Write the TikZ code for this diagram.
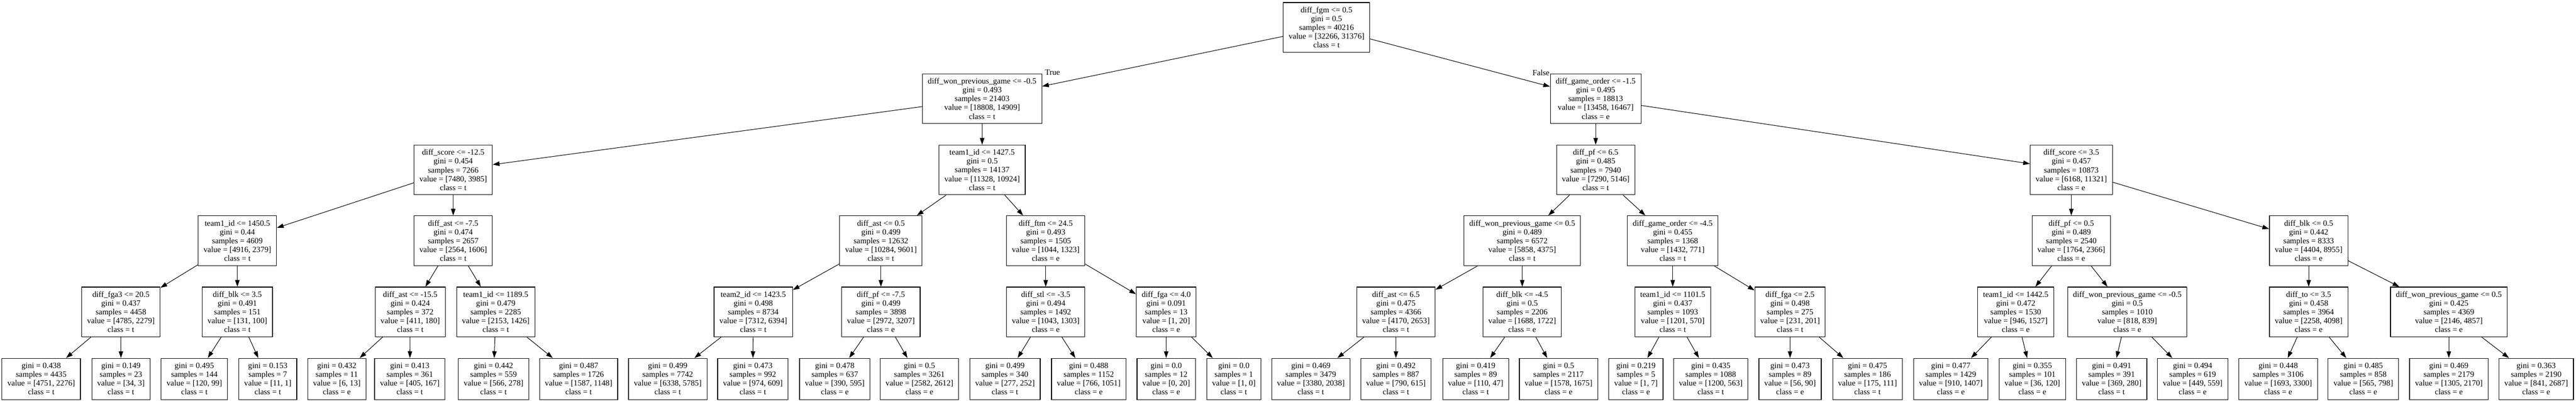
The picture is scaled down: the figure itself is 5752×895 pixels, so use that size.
\documentclass[tikz,border=0pt]{standalone}
\usepackage{fontspec}
\usetikzlibrary{arrows.meta}
\newfontfamily\gvfont{Liberation Serif}
\tikzset{
  box/.style={draw=black, line width=1.4pt, align=center, inner xsep=12pt, inner ysep=0pt,
    minimum height=111pt, anchor=north, font=\gvfont\fontsize{18}{19.7}\selectfont},
  leaf/.style={box, minimum height=92pt},
  arr/.style={draw=black, line width=1.2pt, -{Triangle[length=15pt,width=10pt]}},
  lbl/.style={font=\gvfont\fontsize{18}{19.7}\selectfont, inner sep=0pt}
}
\begin{document}
\begin{tikzpicture}[x=1pt,y=1pt]
\useasboundingbox (0,0) rectangle (5752,895);
% level 0
\node[box] (r) at (2962,890) {diff\_fgm <= 0.5\\gini = 0.5\\samples = 40216\\value = [32266, 31376]\\class = t};
% level 1
\node[box] (a) at (2193,731) {diff\_won\_previous\_game <= -0.5\\gini = 0.493\\samples = 21403\\value = [18808, 14909]\\class = t};
\node[box] (b) at (3563,731) {diff\_game\_order <= -1.5\\gini = 0.495\\samples = 18813\\value = [13458, 16467]\\class = e};
% level 2
\node[box] (aa) at (1012,572) {diff\_score <= -12.5\\gini = 0.454\\samples = 7266\\value = [7480, 3985]\\class = t};
\node[box] (ab) at (2193,572) {team1\_id <= 1427.5\\gini = 0.5\\samples = 14137\\value = [11328, 10924]\\class = t};
\node[box] (ba) at (3563,572) {diff\_pf <= 6.5\\gini = 0.485\\samples = 7940\\value = [7290, 5146]\\class = t};
\node[box] (bb) at (4625,572) {diff\_score <= 3.5\\gini = 0.457\\samples = 10873\\value = [6168, 11321]\\class = e};
% level 3
\node[box] (aaa) at (530,414) {team1\_id <= 1450.5\\gini = 0.44\\samples = 4609\\value = [4916, 2379]\\class = t};
\node[box] (aab) at (1012,414) {diff\_ast <= -7.5\\gini = 0.474\\samples = 2657\\value = [2564, 1606]\\class = t};
\node[box] (aba) at (1967,414) {diff\_ast <= 0.5\\gini = 0.499\\samples = 12632\\value = [10284, 9601]\\class = t};
\node[box] (abb) at (2335,414) {diff\_ftm <= 24.5\\gini = 0.493\\samples = 1505\\value = [1044, 1323]\\class = e};
\node[box] (baa) at (3399,414) {diff\_won\_previous\_game <= 0.5\\gini = 0.489\\samples = 6572\\value = [5858, 4375]\\class = t};
\node[box] (bab) at (3735,414) {diff\_game\_order <= -4.5\\gini = 0.455\\samples = 1368\\value = [1432, 771]\\class = t};
\node[box] (bba) at (4625,414) {diff\_pf <= 0.5\\gini = 0.489\\samples = 2540\\value = [1764, 2366]\\class = e};
\node[box] (bbb) at (5155,414) {diff\_blk <= 0.5\\gini = 0.442\\samples = 8333\\value = [4404, 8955]\\class = e};
% level 4
\node[box] (aaaa) at (270,255) {diff\_fga3 <= 20.5\\gini = 0.437\\samples = 4458\\value = [4785, 2279]\\class = t};
\node[box] (aaab) at (530,255) {diff\_blk <= 3.5\\gini = 0.491\\samples = 151\\value = [131, 100]\\class = t};
\node[box] (aaba) at (916,255) {diff\_ast <= -15.5\\gini = 0.424\\samples = 372\\value = [411, 180]\\class = t};
\node[box] (aabb) at (1107,255) {team1\_id <= 1189.5\\gini = 0.479\\samples = 2285\\value = [2153, 1426]\\class = t};
\node[box] (abaa) at (1682,255) {team2\_id <= 1423.5\\gini = 0.498\\samples = 8734\\value = [7312, 6394]\\class = t};
\node[box] (abab) at (1967,255) {diff\_pf <= -7.5\\gini = 0.499\\samples = 3898\\value = [2972, 3207]\\class = e};
\node[box] (abba) at (2335,255) {diff\_stl <= -3.5\\gini = 0.494\\samples = 1492\\value = [1043, 1303]\\class = e};
\node[box] (abbb) at (2604,255) {diff\_fga <= 4.0\\gini = 0.091\\samples = 13\\value = [1, 20]\\class = e};
\node[box] (baaa) at (3117,255) {diff\_ast <= 6.5\\gini = 0.475\\samples = 4366\\value = [4170, 2653]\\class = t};
\node[box] (baab) at (3399,255) {diff\_blk <= -4.5\\gini = 0.5\\samples = 2206\\value = [1688, 1722]\\class = e};
\node[box] (baba) at (3735,255) {team1\_id <= 1101.5\\gini = 0.437\\samples = 1093\\value = [1201, 570]\\class = t};
\node[box] (babb) at (3997,255) {diff\_fga <= 2.5\\gini = 0.498\\samples = 275\\value = [231, 201]\\class = t};
\node[box] (bbaa) at (4501,255) {team1\_id <= 1442.5\\gini = 0.472\\samples = 1530\\value = [946, 1527]\\class = e};
\node[box] (bbab) at (4750,255) {diff\_won\_previous\_game <= -0.5\\gini = 0.5\\samples = 1010\\value = [818, 839]\\class = e};
\node[box] (bbba) at (5155,255) {diff\_to <= 3.5\\gini = 0.458\\samples = 3964\\value = [2258, 4098]\\class = e};
\node[box] (bbbb) at (5468,255) {diff\_won\_previous\_game <= 0.5\\gini = 0.425\\samples = 4369\\value = [2146, 4857]\\class = e};
% leaves
\node[leaf] (l1) at (92,96) {gini = 0.438\\samples = 4435\\value = [4751, 2276]\\class = t};
\node[leaf] (l2) at (270,96) {gini = 0.149\\samples = 23\\value = [34, 3]\\class = t};
\node[leaf] (l3) at (434,96) {gini = 0.495\\samples = 144\\value = [120, 99]\\class = t};
\node[leaf] (l4) at (598,96) {gini = 0.153\\samples = 7\\value = [11, 1]\\class = t};
\node[leaf] (l5) at (752,96) {gini = 0.432\\samples = 11\\value = [6, 13]\\class = e};
\node[leaf] (l6) at (915,96) {gini = 0.413\\samples = 361\\value = [405, 167]\\class = t};
\node[leaf] (l7) at (1102,96) {gini = 0.442\\samples = 559\\value = [566, 278]\\class = t};
\node[leaf] (l8) at (1292,96) {gini = 0.487\\samples = 1726\\value = [1587, 1148]\\class = t};
\node[leaf] (l9) at (1491,96) {gini = 0.499\\samples = 7742\\value = [6338, 5785]\\class = t};
\node[leaf] (l10) at (1681,96) {gini = 0.473\\samples = 992\\value = [974, 609]\\class = t};
\node[leaf] (l11) at (1864,96) {gini = 0.478\\samples = 637\\value = [390, 595]\\class = e};
\node[leaf] (l12) at (2053,96) {gini = 0.5\\samples = 3261\\value = [2582, 2612]\\class = e};
\node[leaf] (l13) at (2244,96) {gini = 0.499\\samples = 340\\value = [277, 252]\\class = t};
\node[leaf] (l14) at (2431,96) {gini = 0.488\\samples = 1152\\value = [766, 1051]\\class = e};
\node[leaf] (l15) at (2604,96) {gini = 0.0\\samples = 12\\value = [0, 20]\\class = e};
\node[leaf] (l16) at (2755,96) {gini = 0.0\\samples = 1\\value = [1, 0]\\class = t};
\node[leaf] (l17) at (2927,96) {gini = 0.469\\samples = 3479\\value = [3380, 2038]\\class = t};
\node[leaf] (l18) at (3117,96) {gini = 0.492\\samples = 887\\value = [790, 615]\\class = t};
\node[leaf] (l19) at (3295,96) {gini = 0.419\\samples = 89\\value = [110, 47]\\class = t};
\node[leaf] (l20) at (3480,96) {gini = 0.5\\samples = 2117\\value = [1578, 1675]\\class = e};
\node[leaf] (l21) at (3653,96) {gini = 0.219\\samples = 5\\value = [1, 7]\\class = e};
\node[leaf] (l22) at (3820,96) {gini = 0.435\\samples = 1088\\value = [1200, 563]\\class = t};
\node[leaf] (l23) at (3997,96) {gini = 0.473\\samples = 89\\value = [56, 90]\\class = e};
\node[leaf] (l24) at (4170,96) {gini = 0.475\\samples = 186\\value = [175, 111]\\class = t};
\node[leaf] (l25) at (4356,96) {gini = 0.477\\samples = 1429\\value = [910, 1407]\\class = e};
\node[leaf] (l26) at (4538,96) {gini = 0.355\\samples = 101\\value = [36, 120]\\class = e};
\node[leaf] (l27) at (4715,96) {gini = 0.491\\samples = 391\\value = [369, 280]\\class = t};
\node[leaf] (l28) at (4896,96) {gini = 0.494\\samples = 619\\value = [449, 559]\\class = e};
\node[leaf] (l29) at (5087,96) {gini = 0.448\\samples = 3106\\value = [1693, 3300]\\class = e};
\node[leaf] (l30) at (5277,96) {gini = 0.485\\samples = 858\\value = [565, 798]\\class = e};
\node[leaf] (l31) at (5468,96) {gini = 0.469\\samples = 2179\\value = [1305, 2170]\\class = e};
\node[leaf] (l32) at (5663,96) {gini = 0.363\\samples = 2190\\value = [841, 2687]\\class = e};
% edge labels
\node[lbl] (tl) at (2350,733) {True};
\node[lbl] (fl) at (3441,733) {False};
% edges
\foreach \p/\c in {r/a, r/b, a/aa, a/ab, b/ba, b/bb,
  aa/aaa, aa/aab, ab/aba, ab/abb, ba/baa, ba/bab, bb/bba, bb/bbb,
  aaa/aaaa, aaa/aaab, aab/aaba, aab/aabb, aba/abaa, aba/abab, abb/abba, abb/abbb,
  baa/baaa, baa/baab, bab/baba, bab/babb, bba/bbaa, bba/bbab, bbb/bbba, bbb/bbbb,
  aaaa/l1, aaaa/l2, aaab/l3, aaab/l4, aaba/l5, aaba/l6, aabb/l7, aabb/l8,
  abaa/l9, abaa/l10, abab/l11, abab/l12, abba/l13, abba/l14, abbb/l15, abbb/l16,
  baaa/l17, baaa/l18, baab/l19, baab/l20, baba/l21, baba/l22, babb/l23, babb/l24,
  bbaa/l25, bbaa/l26, bbab/l27, bbab/l28, bbba/l29, bbba/l30, bbbb/l31, bbbb/l32}
  {\draw[arr] (\p) -- (\c);}
\end{tikzpicture}
\end{document}
